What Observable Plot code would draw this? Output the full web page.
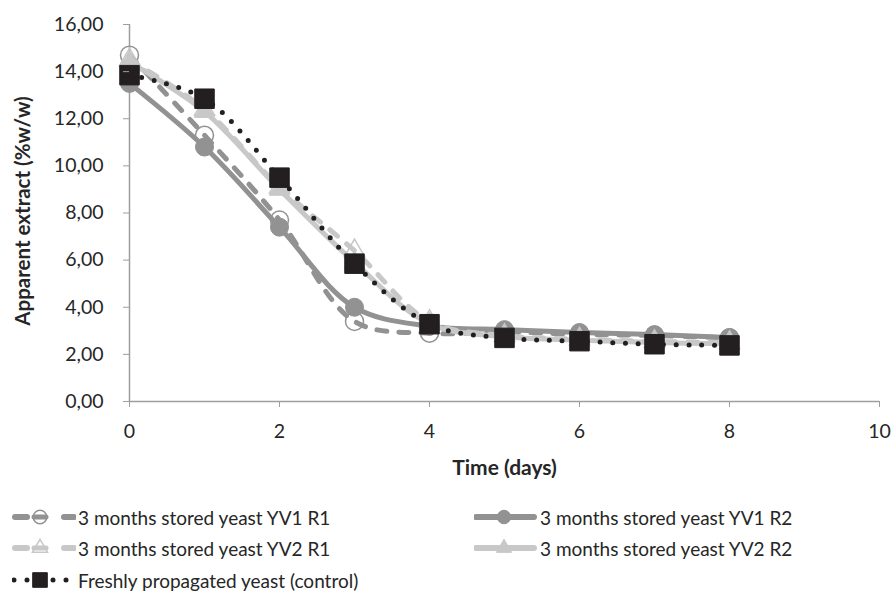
<!DOCTYPE html>
<html>
<head>
<meta charset="utf-8">
<script src="https://cdn.jsdelivr.net/npm/d3@7"></script>
<script src="https://cdn.jsdelivr.net/npm/@observablehq/plot@0.6"></script>
<style>
  html, body { margin: 0; padding: 0; background: #fff; }
  body { width: 893px; height: 594px; overflow: hidden; font-family: Lato, "Noto Sans", sans-serif; color: #262626; }
  #legend { position: relative; height: 104px; font-size: 19px; }
  .item { position: absolute; display: flex; align-items: center; height: 30px; white-space: nowrap; }
  .item svg { display: block; }
</style>
</head>
<body>
<div id="chart"></div>
<div id="legend"></div>
<script>
// ---- data ----
const days = [0, 1, 2, 3, 4, 5, 6, 7, 8];
const yv1r1 = [14.70, 11.30, 7.70, 3.40, 2.90, 2.95, 2.85, 2.80, 2.70];
const yv1r2 = [13.50, 10.80, 7.40, 4.00, 3.20, 3.05, 2.93, 2.84, 2.72];
const yv2r1 = [14.50, 12.40, 9.10, 6.40, 3.40, 2.80, 2.65, 2.55, 2.50];
const yv2r2 = [14.40, 12.30, 9.00, 5.90, 3.30, 2.75, 2.60, 2.50, 2.45];
const control = [13.85, 12.85, 9.50, 5.85, 3.28, 2.70, 2.56, 2.43, 2.38];
const seriesNames = [
  "3 months stored yeast YV1 R1",
  "3 months stored yeast YV1 R2",
  "3 months stored yeast YV2 R1",
  "3 months stored yeast YV2 R2",
  "Freshly propagated yeast (control)"
];
const xTicks = [0, 2, 4, 6, 8, 10];
const yTicks = [0, 2, 4, 6, 8, 10, 12, 14, 16];
const xTitle = "Time (days)";
const yTitle = "Apparent extract (%w/w)";

// ---- styles ----
const MID = "#929292", LIGHT = "#c8c8c8", DARK = "#231f20";
const styles = [
  {stroke: MID,   dash: "10 12",  width: 5, symbol: "circle",   fill: "none", mstroke: MID,  r: 9,  sw: 1.5},
  {stroke: MID,   dash: null,     width: 5, symbol: "circle",   fill: MID,    mstroke: MID,  r: 9,  sw: 1},
  {stroke: LIGHT, dash: "10 12",  width: 5, symbol: "triangle", fill: "none", mstroke: LIGHT, r: 7.5, sw: 1.5},
  {stroke: LIGHT, dash: null,     width: 5, symbol: "triangle", fill: LIGHT,  mstroke: LIGHT, r: 7.5, sw: 1},
  {stroke: DARK,  dash: "0 12.7", width: 5, symbol: "square",   fill: DARK,   mstroke: DARK, r: 11, sw: 1}
];
const valuesList = [yv1r1, yv1r2, yv2r1, yv2r2, control];
const tables = valuesList.map((vals, i) => days.map((d, j) => ({day: d, value: vals[j], series: seriesNames[i]})));

const marks = [];
marks.push(Plot.ruleY([0], {stroke: "#9e9e9e", strokeWidth: 1.5}));
marks.push(Plot.ruleX([0], {stroke: "#9e9e9e", strokeWidth: 1.5}));
tables.forEach((t, i) => {
  const s = styles[i];
  marks.push(Plot.line(t, {x: "day", y: "value", curve: "catmull-rom", stroke: s.stroke, strokeWidth: s.width,
    strokeDasharray: s.dash || undefined, strokeLinecap: "round", strokeLinejoin: "round"}));
  marks.push(Plot.dot(t, {x: "day", y: "value", symbol: () => s.symbol, r: s.r, fill: s.fill, stroke: s.mstroke, strokeWidth: s.sw}));
});
marks.push(Plot.axisX({ticks: xTicks, tickSize: 6, tickPadding: 17, stroke: "#9e9e9e", fontSize: 19.5, label: null}));
marks.push(Plot.axisY({ticks: yTicks, tickSize: 6, tickPadding: 20, stroke: "#9e9e9e", fontSize: 19.5, label: null,
  tickFormat: d => d.toFixed(2).replace(".", ",")}));
marks.push(Plot.text([xTitle], {frameAnchor: "bottom", dy: 67, lineAnchor: "middle", text: d => d, fontWeight: "bold", fontSize: 21, fill: "#262626"}));
marks.push(Plot.text([yTitle], {frameAnchor: "left", dx: -106, dy: -2, rotate: -90, textAnchor: "middle", lineAnchor: "middle", text: d => d, fontWeight: "bold", fontSize: 20.5, fill: "#262626"}));

const chart = Plot.plot({
  width: 893,
  height: 492,
  marginTop: 24,
  marginBottom: 91,
  marginLeft: 129,
  marginRight: 14,
  style: {fontFamily: "Lato, 'Noto Sans', sans-serif", color: "#262626", background: "#fff", overflow: "visible"},
  x: {domain: [0, 10], axis: null},
  y: {domain: [0, 16], axis: null},
  marks
});
document.getElementById("chart").appendChild(chart);

// ---- legend ----
const legend = d3.select("#legend");
const positions = [[12, 10], [474, 10], [12, 41], [474, 41], [12, 73]];
function symbolPath(type, r) {
  const sym = {circle: d3.symbolCircle, triangle: d3.symbolTriangle, square: d3.symbolSquare}[type];
  return d3.symbol(sym, Math.PI * r * r)();
}
seriesNames.forEach((name, i) => {
  const s = styles[i];
  const [left, top] = positions[i];
  const item = legend.append("div").attr("class", "item").style("left", left + "px").style("top", top + "px");
  const svg = item.append("svg").attr("width", 64).attr("height", 26);
  const cx = i % 2 === 1 ? 30 : 28;
  if (s.dash && s.dash.startsWith("0")) {
    svg.append("line").attr("x1", 2).attr("x2", 56).attr("y1", 13).attr("y2", 13)
      .attr("stroke", s.stroke).attr("stroke-width", 5).attr("stroke-dasharray", "0 13")
      .attr("stroke-linecap", "round");
  } else if (s.dash) {
    svg.append("line").attr("x1", 3).attr("x2", 15).attr("y1", 13).attr("y2", 13)
      .attr("stroke", s.stroke).attr("stroke-width", 6).attr("stroke-linecap", "round");
    svg.append("line").attr("x1", 52).attr("x2", 62).attr("y1", 13).attr("y2", 13)
      .attr("stroke", s.stroke).attr("stroke-width", 6).attr("stroke-linecap", "round");
    svg.append("line").attr("x1", 22).attr("x2", 34).attr("y1", 13).attr("y2", 13)
      .attr("stroke", s.stroke).attr("stroke-width", 5).attr("stroke-linecap", "round");
  } else {
    svg.append("line").attr("x1", 2).attr("x2", 60).attr("y1", 13).attr("y2", 13)
      .attr("stroke", s.stroke).attr("stroke-width", 6).attr("stroke-linecap", "round");
  }
  svg.append("path").attr("d", symbolPath(s.symbol, s.r * 0.75)).attr("transform", `translate(${cx},13)`)
    .attr("fill", s.fill).attr("stroke", s.mstroke).attr("stroke-width", s.sw);
  item.append("span").style("margin-left", "2px").text(name);
});
</script>
</body>
</html>
